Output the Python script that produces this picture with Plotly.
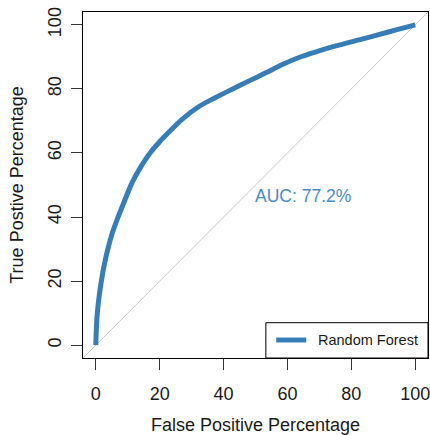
import plotly.graph_objects as go

fpr = [0, 0.15, 0.4, 0.9, 1.5, 2.4, 3.5, 5, 6.7, 8.5, 11.4, 14, 17, 20, 23, 27, 32.3, 37.5, 42.7, 48, 53.2, 58.4, 63.6, 69.4, 75.1, 82.4, 88, 94, 100]
tpr = [0, 4.5, 9.1, 14, 18.4, 23.8, 28.9, 34.5, 39.3, 43.8, 50.8, 55.5, 60, 63.5, 66.6, 70.5, 74.5, 77.3, 79.9, 82.5, 85.0, 87.6, 89.8, 91.7, 93.4, 95.3, 96.8, 98.4, 100]
tick_vals = [0, 20, 40, 60, 80, 100]
auc_label = "AUC: 77.2%"
series_name = "Random Forest"
blue = "#377EB8"
font_family = "Liberation Sans, Arial"

fig = go.Figure()
fig.add_shape(type="line", x0=-4, y0=-4, x1=104, y1=104, xref="x", yref="y",
              line=dict(color="#C8C8C8", width=1), layer="below")
fig.add_trace(go.Scatter(x=fpr, y=tpr, mode="lines", name=series_name, showlegend=False,
                         line=dict(color=blue, width=5, shape="spline", smoothing=0.8)))
fig.add_annotation(x=65, y=46.5, text=auc_label, showarrow=False,
                   font=dict(size=17.5, color="#4A8BC6", family=font_family))

# legend box (drawn in paper coordinates)
fig.add_shape(type="rect", xref="paper", yref="paper", x0=0.530, x1=1.0, y0=0.0, y1=0.102,
              line=dict(color="#000000", width=1), fillcolor="white", layer="above")
fig.add_shape(type="line", xref="paper", yref="paper", x0=0.560, x1=0.647, y0=0.052, y1=0.052,
              line=dict(color=blue, width=5), layer="above")
fig.add_annotation(xref="paper", yref="paper", x=0.675, y=0.052, xanchor="left", yanchor="middle",
                   text=series_name, showarrow=False,
                   font=dict(size=14.5, color="#1a1a1a", family=font_family))

axis_common = dict(range=[-4, 104], showgrid=False, zeroline=False,
                   showline=True, linecolor="#000000", linewidth=1, mirror=True,
                   ticks="outside", ticklen=11, tickcolor="#333333", tickwidth=1,
                   tickvals=tick_vals, automargin=False, ticklabeloverflow="allow",
                   tickfont=dict(size=18, color="#1a1a1a", family=font_family))

fig.update_layout(
    width=430, height=435,
    margin=dict(l=83, r=2, t=12, b=77),
    paper_bgcolor="white", plot_bgcolor="white",
    font=dict(family=font_family, color="#1a1a1a"),
    xaxis=dict(**axis_common, ticklabelstandoff=8,
               title=dict(text="False Positive Percentage", font=dict(size=18), standoff=16)),
    yaxis=dict(**axis_common, tickangle=-90, ticklabelstandoff=3,
               title=dict(text="True Postive Percentage", font=dict(size=18), standoff=16)),
    showlegend=False,
)
fig.write_html("out.html", post_script="document.body.style.margin='0';",
               config={"displayModeBar": False})
